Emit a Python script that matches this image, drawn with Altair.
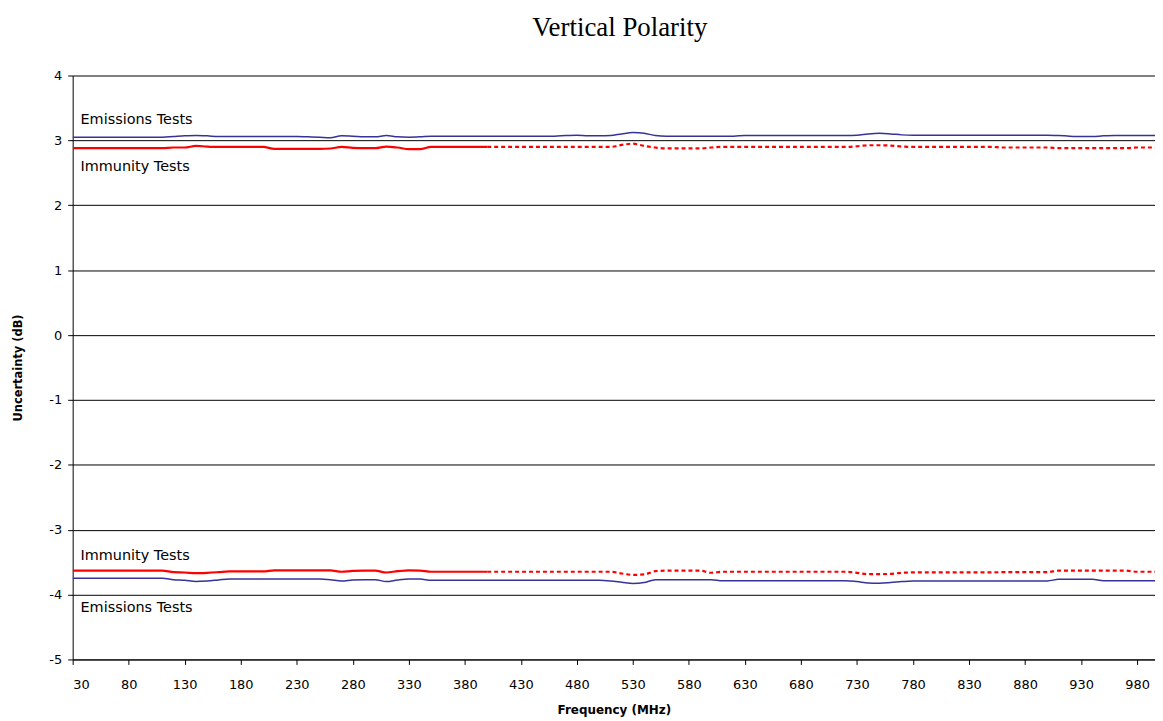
import altair as alt
import pandas as pd

# Frequency grid (MHz)
freq = [30, 40, 50, 60, 70, 80, 90, 100, 110, 120, 130, 140, 150, 160, 170, 180, 190, 200,
        210, 220, 230, 240, 250, 260, 270, 280, 290, 300, 310, 320, 330, 340, 350, 360, 370,
        380, 390, 400, 410, 420, 430, 440, 450, 460, 470, 480, 490, 500, 510, 520, 530, 540,
        550, 560, 570, 580, 590, 600, 610, 620, 630, 640, 650, 660, 670, 680, 690, 700, 710,
        720, 730, 740, 750, 760, 770, 780, 790, 800, 810, 820, 830, 840, 850, 860, 870, 880,
        890, 900, 910, 920, 930, 940, 950, 960, 970, 980, 990, 1000]

emis_upper = [3.05, 3.05, 3.05, 3.05, 3.05, 3.05, 3.05, 3.05, 3.05,
              3.06, 3.07, 3.075, 3.07,
              3.06, 3.06, 3.06, 3.06, 3.06, 3.06, 3.06, 3.06, 3.055, 3.05,
              3.04, 3.07, 3.065, 3.055, 3.055, 3.075, 3.055, 3.05, 3.055,
              3.065, 3.065, 3.065, 3.065, 3.065, 3.065, 3.065, 3.065, 3.065, 3.065, 3.065, 3.065,
              3.075, 3.08, 3.07, 3.07, 3.075, 3.10, 3.12, 3.11, 3.075,
              3.065, 3.065, 3.065, 3.065, 3.065, 3.065, 3.065,
              3.075, 3.075, 3.075, 3.075, 3.075, 3.075, 3.075, 3.075, 3.075, 3.075,
              3.08, 3.10, 3.11, 3.10, 3.085,
              3.08, 3.08, 3.08, 3.08, 3.08, 3.08, 3.08, 3.08, 3.08, 3.08, 3.08, 3.08, 3.08, 3.075,
              3.065, 3.06, 3.06, 3.07,
              3.075, 3.075, 3.075, 3.075, 3.075]

immu_upper = [2.88, 2.88, 2.88, 2.88, 2.88, 2.88, 2.88, 2.88, 2.88,
              2.89, 2.89, 2.915, 2.905,
              2.90, 2.90, 2.90, 2.90, 2.90,
              2.87, 2.87, 2.87, 2.87, 2.87,
              2.875, 2.90, 2.885, 2.88, 2.88, 2.905, 2.89, 2.865, 2.865,
              2.90, 2.90, 2.90, 2.90, 2.90, 2.90, 2.90, 2.90, 2.90, 2.90, 2.90, 2.90, 2.90, 2.90,
              2.90, 2.90, 2.90,
              2.93, 2.95, 2.915, 2.89,
              2.877, 2.877, 2.877, 2.877,
              2.89,
              2.90, 2.90, 2.90, 2.90, 2.90, 2.90, 2.90, 2.90, 2.90, 2.90, 2.90, 2.90,
              2.91, 2.925, 2.925, 2.92, 2.905,
              2.90, 2.90, 2.90, 2.90, 2.90, 2.90, 2.90, 2.90,
              2.89, 2.89, 2.89, 2.89, 2.89,
              2.88, 2.88, 2.88, 2.88, 2.88, 2.88, 2.88,
              2.89, 2.89, 2.89]

immu_lower = [-3.63, -3.63, -3.63, -3.63, -3.63, -3.63, -3.63, -3.63, -3.63,
              -3.655, -3.66, -3.67, -3.665, -3.655,
              -3.643, -3.643, -3.643, -3.643,
              -3.627, -3.627, -3.627, -3.627, -3.627, -3.627,
              -3.648, -3.635, -3.632, -3.632, -3.66, -3.64, -3.627, -3.63,
              -3.648, -3.648, -3.648, -3.648, -3.648, -3.648, -3.648, -3.648, -3.648, -3.648,
              -3.648, -3.648, -3.648, -3.648, -3.648, -3.648, -3.648,
              -3.675, -3.696, -3.69, -3.64,
              -3.632, -3.632, -3.632, -3.632,
              -3.664,
              -3.648, -3.648, -3.648, -3.648, -3.648, -3.648, -3.648, -3.648, -3.648, -3.648,
              -3.648, -3.648,
              -3.665, -3.685, -3.685, -3.68, -3.665,
              -3.659, -3.659, -3.659, -3.659, -3.659, -3.659, -3.659, -3.659,
              -3.654, -3.654, -3.654, -3.654, -3.654,
              -3.632, -3.632, -3.632, -3.632, -3.632, -3.632, -3.632,
              -3.648, -3.648, -3.648]

emis_lower = [-3.75, -3.75, -3.75, -3.75, -3.75, -3.75, -3.75, -3.75, -3.75,
              -3.77, -3.78, -3.797, -3.79, -3.775,
              -3.76, -3.76, -3.76, -3.76, -3.76, -3.76, -3.76, -3.76, -3.76,
              -3.77, -3.79, -3.775, -3.77, -3.77, -3.80, -3.775, -3.76, -3.76,
              -3.78, -3.78, -3.78, -3.78, -3.78, -3.78, -3.78, -3.78, -3.78, -3.78, -3.78, -3.78,
              -3.78, -3.78, -3.78, -3.78,
              -3.79, -3.81, -3.83, -3.815,
              -3.77, -3.77, -3.77, -3.77, -3.77, -3.77,
              -3.787, -3.787, -3.787, -3.787, -3.787, -3.787, -3.787, -3.787, -3.787, -3.787,
              -3.787, -3.787,
              -3.80, -3.82, -3.825, -3.815, -3.80,
              -3.79, -3.79, -3.79, -3.79, -3.79, -3.79, -3.79, -3.79, -3.79, -3.79, -3.79, -3.79,
              -3.79,
              -3.765, -3.765, -3.765, -3.765,
              -3.787, -3.787, -3.787, -3.787, -3.787, -3.787]

dash_start = 400  # immunity curves are drawn dotted from here on

label_text = ["Emissions Tests", "Immunity Tests", "Immunity Tests", "Emissions Tests"]
label_freq = [37, 37, 37, 37]
label_value = [3.31, 2.59, -3.41, -4.21]

x_ticks = [30, 80, 130, 180, 230, 280, 330, 380, 430, 480, 530, 580, 630, 680, 730, 780,
           830, 880, 930, 980]
y_ticks = [-5, -4, -3, -2, -1, 0, 1, 2, 3, 4]

blue_rows = []
red_rows = []
for i, f in enumerate(freq):
    blue_rows.append({"freq": f, "value": emis_upper[i], "line": "upper"})
    blue_rows.append({"freq": f, "value": emis_lower[i], "line": "lower"})
    red_rows.append({"freq": f, "value": immu_upper[i], "line": "upper"})
    red_rows.append({"freq": f, "value": immu_lower[i], "line": "lower"})
blue_df = pd.DataFrame(blue_rows)
red_df = pd.DataFrame(red_rows)
red_solid = red_df[red_df["freq"] <= dash_start]
red_dash = red_df[red_df["freq"] >= dash_start]
labels_df = pd.DataFrame({"text": label_text, "freq": label_freq, "value": label_value})

FONT = "DejaVu Sans"

x_enc = alt.X("freq:Q",
              scale=alt.Scale(domain=[30, 996], nice=False, zero=False),
              axis=alt.Axis(values=x_ticks, title="Frequency (MHz)", grid=False,
                            labelFontSize=13, titleFontSize=12, titleFontWeight="bold",
                            labelPadding=14, titlePadding=13, tickSize=5))
y_enc = alt.Y("value:Q",
              scale=alt.Scale(domain=[-5, 4], nice=False, zero=False),
              axis=alt.Axis(values=y_ticks, title="Uncertainty (dB)", grid=True,
                            gridColor="black", gridWidth=1, gridOpacity=1,
                            labelExpr="datum.value + ''",
                            labelFontSize=13, titleFontSize=11.5, titleFontWeight="bold",
                            labelPadding=6, titlePadding=25, tickSize=5))

blue = alt.Chart(blue_df).mark_line(color="#333399", strokeWidth=1.5, interpolate="monotone",
                                    clip=True).encode(
    x=x_enc, y=y_enc, detail="line:N")
red1 = alt.Chart(red_solid).mark_line(color="#FF0000", strokeWidth=2.2, interpolate="monotone",
                                      clip=True).encode(
    x="freq:Q", y="value:Q", detail="line:N")
red2 = alt.Chart(red_dash).mark_line(color="#FF0000", strokeWidth=2.2, strokeDash=[4, 3],
                                     interpolate="monotone", clip=True).encode(
    x="freq:Q", y="value:Q", detail="line:N")
texts = alt.Chart(labels_df).mark_text(align="left", baseline="middle", font=FONT, fontSize=14.5,
                                       color="black").encode(
    x="freq:Q", y="value:Q", text="text:N")

chart = alt.layer(blue, red1, red2, texts).properties(
    width=1088,
    height=587,
    autosize=alt.AutoSizeParams(type="none"),
    padding={"left": 65, "top": 66, "right": 0, "bottom": 58},
    title=alt.TitleParams("Vertical Polarity", font="Liberation Serif", fontSize=27,
                          fontWeight="normal", color="black", offset=28, anchor="middle", dx=6),
).configure_view(stroke=None).configure_axis(
    labelFont=FONT, titleFont=FONT, domainColor="black", tickColor="black",
    labelColor="black", titleColor="black", domainWidth=1, tickWidth=1
)

chart.save("out.html", embed_options={"renderer": "svg", "actions": False})
